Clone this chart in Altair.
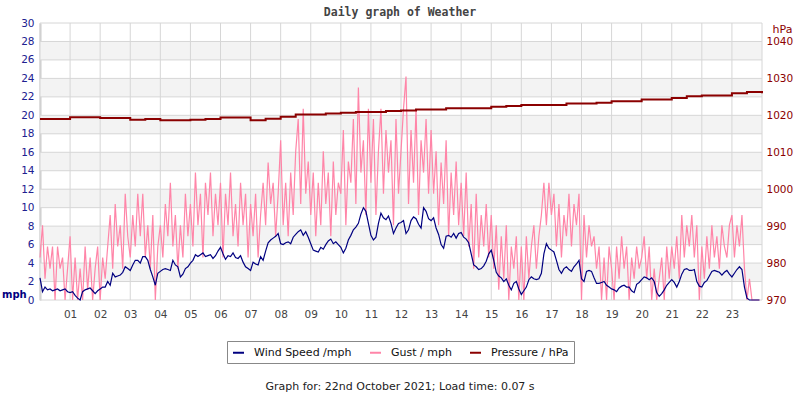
import altair as alt
import pandas as pd

# ---------------- data ----------------
series_names = ["Wind Speed /mph", "Gust / mph", "Pressure / hPa"]
series_colors = ["#000080", "#ff85a8", "#8b0000"]

hour_labels = list(range(1, 24))          # x tick labels 01..23
hour_lines = list(range(0, 25))           # vertical grid lines
mph_ticks = list(range(0, 31, 2))         # left axis
hpa_ticks = list(range(970, 1041, 10))    # right axis
band_lo = [2, 6, 10, 14, 18, 22, 26]      # shaded bands (mph)
band_hi = [4, 8, 12, 16, 20, 24, 28]

# wind speed, one value every 5 minutes (12 per hour)
wind = [
    2.4, 0.9, 1.4, 1.1, 1.2, 1.0, 1.1, 1.2, 1.0, 1.1, 1.2, 0.9,
    0.8, 0.9, 0.5, 0.2, 0.0, 0.9, 1.1, 1.2, 1.3, 1.0, 0.7, 1.0,
    1.2, 1.4, 1.4, 2.0, 1.6, 2.9, 2.5, 2.6, 2.7, 3.0, 3.6, 3.4,
    3.2, 3.8, 4.3, 4.3, 4.0, 4.7, 4.7, 4.3, 3.3, 2.5, 1.6, 2.9,
    3.1, 3.3, 3.4, 3.3, 3.2, 4.3, 3.8, 3.6, 2.5, 2.8, 3.4, 3.6,
    4.0, 4.3, 4.9, 4.7, 4.9, 5.1, 4.7, 4.8, 4.9, 4.5, 4.8, 5.3,
    5.7, 5.0, 4.4, 4.8, 4.7, 5.1, 4.6, 4.5, 4.8, 4.1, 3.6, 3.4,
    3.2, 4.1, 3.9, 3.8, 4.7, 4.3, 5.3, 6.2, 6.5, 6.7, 6.9, 7.2,
    6.1, 6.0, 6.2, 6.3, 6.1, 6.8, 7.1, 7.4, 7.6, 7.0, 7.4, 6.8,
    6.1, 5.4, 5.3, 5.2, 5.7, 5.5, 6.0, 6.4, 6.6, 6.1, 6.3, 6.0,
    5.7, 5.1, 5.6, 6.5, 7.0, 7.6, 7.9, 8.3, 9.3, 10.0, 9.6, 8.3,
    7.0, 6.5, 6.8, 8.3, 9.4, 8.9, 8.7, 9.1, 8.3, 7.2, 7.8, 8.3,
    8.4, 8.6, 7.2, 7.6, 8.6, 9.0, 8.8, 8.2, 7.8, 10.0, 9.6, 8.8,
    8.6, 8.9, 7.8, 7.1, 6.0, 5.6, 6.9, 7.0, 6.8, 7.2, 6.7, 7.2,
    7.3, 6.8, 6.6, 6.2, 5.0, 3.8, 3.6, 3.3, 3.4, 3.7, 4.2, 5.0,
    5.4, 4.3, 3.0, 2.6, 2.4, 2.0, 2.3, 1.6, 1.1, 1.8, 2.0, 1.2,
    0.6, 1.0, 1.4, 2.2, 2.5, 2.3, 2.2, 2.3, 2.9, 5.0, 6.1, 5.6,
    5.4, 5.2, 4.3, 3.3, 2.9, 3.4, 3.6, 3.3, 3.1, 3.6, 3.9, 4.3,
    2.3, 2.0, 3.1, 3.2, 3.1, 2.4, 1.8, 1.8, 1.9, 2.0, 1.6, 1.4,
    1.2, 1.1, 0.9, 1.3, 1.5, 1.6, 1.4, 1.4, 1.0, 0.8, 1.7, 1.9,
    2.2, 2.5, 2.4, 2.2, 2.4, 2.0, 0.8, 0.4, 0.7, 1.1, 1.6, 1.9,
    2.2, 1.9, 1.4, 2.0, 2.8, 3.3, 3.4, 3.2, 3.2, 3.3, 2.0, 1.5,
    1.4, 1.9, 2.1, 2.6, 3.1, 3.2, 3.1, 3.0, 2.7, 3.0, 3.2, 2.8,
    2.5, 2.9, 3.3, 3.6, 3.3, 1.4, 0.2, 0.0, 0.0, 0.0, 0.0, 0.0,
]

# gust, one value every 5 minutes (12 per hour)
gust = [
    4.6, 8.1, 2.3, 5.8, 3.4, 5.8, 0.0, 5.8, 3.4, 4.6, 0.0, 3.4,
    6.9, 0.0, 4.6, 0.0, 3.4, 0.0, 5.8, 1.1, 4.6, 0.0, 3.4, 5.8,
    0.0, 4.6, 2.3, 5.8, 9.2, 3.4, 10.4, 5.8, 8.1, 3.4, 11.5, 6.9,
    4.6, 9.2, 5.8, 11.5, 6.9, 11.5, 4.6, 8.1, 3.4, 9.2, 0.0, 5.8,
    8.1, 4.6, 10.4, 6.9, 12.7, 5.8, 9.2, 3.4, 8.1, 4.6, 11.5, 6.9,
    10.4, 5.8, 13.8, 8.1, 11.5, 4.6, 12.7, 9.2, 13.8, 6.9, 11.5, 8.1,
    12.7, 4.6, 11.5, 8.1, 13.8, 6.9, 10.4, 5.8, 12.7, 8.1, 11.5, 4.6,
    10.4, 6.9, 11.5, 4.6, 9.2, 12.7, 8.1, 14.9, 10.4, 12.7, 6.9, 11.5,
    17.3, 8.1, 12.7, 6.9, 13.8, 9.2, 16.1, 19.6, 10.4, 20.7, 11.5, 15.0,
    9.2, 13.8, 6.9, 12.7, 8.1, 16.1, 10.4, 13.8, 6.9, 15.0, 9.2, 12.7,
    11.5, 18.4, 8.1, 15.0, 12.7, 19.6, 10.4, 23.0, 13.8, 17.3, 9.2, 20.7,
    12.7, 19.6, 9.2, 16.1, 20.7, 11.5, 18.4, 13.8, 17.3, 8.1, 19.6, 11.5,
    16.1, 20.7, 24.2, 10.4, 18.4, 12.7, 20.7, 9.2, 17.3, 13.8, 19.6, 11.5,
    18.4, 11.5, 16.1, 8.1, 14.9, 10.4, 17.3, 6.9, 13.8, 9.2, 15.0, 8.1,
    12.7, 6.9, 13.8, 5.8, 10.4, 3.4, 11.5, 4.6, 9.2, 5.8, 10.4, 4.6,
    9.2, 3.4, 8.1, 1.1, 6.9, 2.3, 8.1, 0.0, 5.8, 3.4, 6.9, 0.0,
    5.8, 0.0, 6.9, 2.3, 5.8, 8.1, 3.4, 6.9, 9.2, 12.7, 8.1, 12.7,
    9.2, 11.5, 5.8, 10.4, 4.6, 9.2, 6.9, 11.5, 5.8, 10.4, 8.1, 11.5,
    0.0, 9.2, 4.6, 8.1, 5.8, 6.9, 3.4, 5.8, 0.0, 4.6, 0.0, 5.8,
    3.4, 0.0, 5.8, 2.3, 6.9, 3.4, 5.8, 0.0, 4.6, 2.3, 5.8, 3.4,
    4.6, 6.9, 2.3, 5.8, 0.0, 3.4, 0.0, 2.3, 4.6, 0.0, 5.8, 2.3,
    5.8, 3.4, 6.9, 2.3, 9.2, 4.6, 8.1, 5.8, 9.2, 4.6, 8.1, 0.0,
    5.8, 2.3, 6.9, 3.4, 8.1, 4.6, 6.9, 3.4, 8.1, 5.8, 4.6, 8.1,
    9.2, 4.6, 8.1, 5.8, 9.2, 3.4, 0.0, 2.3, 0.0, 0.0, 0.0, 0.0,
]

# pressure every 30 minutes (hPa)
pressure = [
    1019.0, 1019.0, 1019.5, 1019.5, 1019.3, 1019.3, 1018.8, 1019.0,
    1018.7, 1018.7, 1018.8, 1019.0, 1019.4, 1019.4, 1018.7, 1019.1,
    1019.6, 1020.2, 1020.2, 1020.5, 1020.7, 1020.9, 1020.9, 1021.2,
    1021.3, 1021.6, 1021.6, 1021.9, 1021.9, 1021.9, 1022.3, 1022.5,
    1022.8, 1022.8, 1022.8, 1023.2, 1023.2, 1023.4, 1023.8, 1023.8,
    1024.3, 1024.3, 1024.7, 1025.2, 1025.4, 1025.4, 1026.0, 1026.3,
    1026.0,
]

title_text = "Daily graph of Weather"
footer_text = "Graph for: 22nd October 2021; Load time: 0.07 s"

# ---------------- tables ----------------
t5 = [i * 5 / 60 for i in range(len(wind))]
wind_df = pd.DataFrame({"t": t5, "v": wind, "series": series_names[0]})
gust_df = pd.DataFrame({"t": t5, "v": gust, "series": series_names[1]})
t30 = [i * 0.5 for i in range(len(pressure))]
pres_df = pd.DataFrame({"t": t30, "p": pressure, "series": series_names[2]})
band_df = pd.DataFrame({"lo": band_lo, "hi": band_hi})
hgrid_df = pd.DataFrame({"v": mph_ticks})
vgrid_df = pd.DataFrame({"t": hour_lines})

W, H = 722, 277
FONT = "DejaVu Sans"

x_scale = alt.Scale(domain=[0, 24], nice=False, zero=False)
y_scale = alt.Scale(domain=[0, 30], nice=False)
x_axis = alt.Axis(values=hour_labels, title=None, grid=False, ticks=False, domain=False,
                  labelExpr="datum.value < 10 ? '0' + datum.value : '' + datum.value",
                  labelColor="#444444", labelFont=FONT, labelFontSize=10.5, labelPadding=9,
                  labelFlush=False)
y_axis = alt.Axis(values=mph_ticks, title=None, grid=False, ticks=False, domain=True,
                  domainColor="#cccccc", domainWidth=2, labelColor="#202090",
                  labelFont=FONT, labelFontSize=10.5, labelPadding=6)

color = alt.Color("series:N",
                  scale=alt.Scale(domain=series_names, range=series_colors),
                  legend=alt.Legend(orient="none", legendX=187, legendY=318,
                                    direction="horizontal", title=None,
                                    strokeColor="#888888", fillColor="white",
                                    padding=5, symbolType="stroke", symbolSize=121,
                                    symbolStrokeWidth=2, labelFont=FONT,
                                    labelFontSize=11, labelColor="#111111",
                                    labelOffset=9, columnPadding=14))

bands = alt.Chart(band_df).mark_rect(color="#f3f3f3").encode(
    y=alt.Y("lo:Q", scale=y_scale, axis=y_axis),
    y2="hi:Q",
    x=alt.value(0), x2=alt.value(W),
)
hgrid = alt.Chart(hgrid_df).mark_rule(color="#d6d6d6", strokeWidth=1).encode(
    y=alt.Y("v:Q", scale=y_scale, axis=y_axis))
vgrid = alt.Chart(vgrid_df).mark_rule(color="#d6d6d6", strokeWidth=1).encode(
    x=alt.X("t:Q", scale=x_scale, axis=x_axis))
gust_line = alt.Chart(gust_df).mark_line(strokeWidth=1.2).encode(
    x=alt.X("t:Q", scale=x_scale, axis=x_axis),
    y=alt.Y("v:Q", scale=y_scale, axis=y_axis),
    color=color)
wind_line = alt.Chart(wind_df).mark_line(strokeWidth=1.2).encode(
    x=alt.X("t:Q", scale=x_scale, axis=x_axis),
    y=alt.Y("v:Q", scale=y_scale, axis=y_axis),
    color=color)

mph_layer = alt.layer(bands, hgrid, vgrid, gust_line, wind_line)

pres_line = alt.Chart(pres_df).mark_line(strokeWidth=2, interpolate="step-after").encode(
    x=alt.X("t:Q", scale=x_scale, axis=x_axis),
    y=alt.Y("p:Q", scale=alt.Scale(domain=[970, 1045], nice=False, zero=False),
            axis=alt.Axis(orient="right", values=hpa_ticks, title=None, ticks=False,
                          domain=False, grid=False, labelColor="#8b0000", format="d",
                          labelFont=FONT, labelFontSize=10.5, labelPadding=4)),
    color=color)

one = alt.Data(values=[{"k": 1}])
title_mark = alt.Chart(one).mark_text(text=title_text, font="DejaVu Sans Mono",
                                      fontWeight="bold", fontSize=11.5, color="#444444",
                                      align="center", baseline="middle").encode(
    x=alt.value(360), y=alt.value(-10))
footer_mark = alt.Chart(one).mark_text(text=footer_text, font=FONT, fontSize=11,
                                       color="#222222", align="center",
                                       baseline="middle").encode(
    x=alt.value(360), y=alt.value(364))
mph_mark = alt.Chart(one).mark_text(text="mph", font=FONT, fontSize=10, fontWeight="bold",
                                    color="#000080", align="left",
                                    baseline="middle").encode(
    x=alt.value(-38), y=alt.value(272))
hpa_mark = alt.Chart(one).mark_text(text="hPa", font=FONT, fontSize=11, color="#8b0000",
                                    align="center", baseline="middle").encode(
    x=alt.value(742.5), y=alt.value(6.5))

chart = alt.layer(mph_layer, pres_line, title_mark, footer_mark, mph_mark, hpa_mark).resolve_scale(
    y="independent"
).properties(
    width=W, height=H,
    autosize=alt.AutoSizeParams(type="none"),
    padding={"left": 40, "top": 23, "right": 38, "bottom": 100},
    background="white",
).configure_view(stroke=None)

chart.save("out.html", embed_options={"renderer": "svg", "actions": False})
